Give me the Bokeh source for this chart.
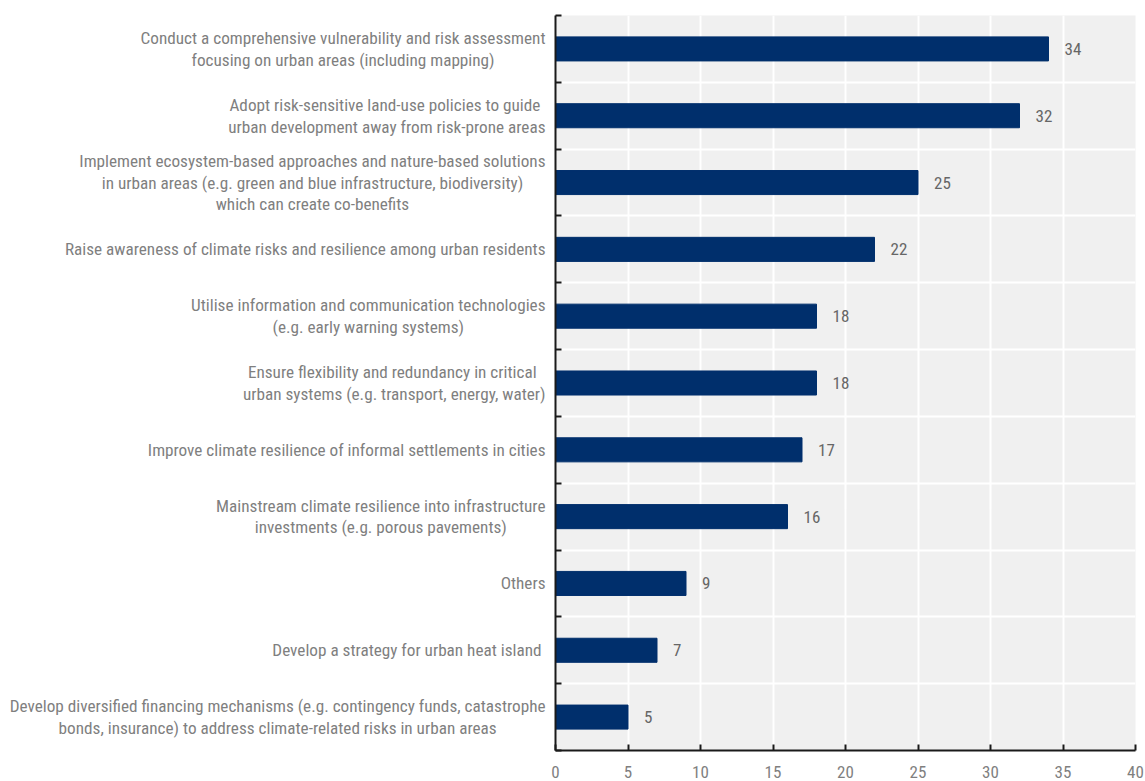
from bokeh.plotting import figure
from bokeh.models import Range1d, FixedTicker, ColumnDataSource
from bokeh.layouts import row
from bokeh.core.properties import value
from bokeh.embed import file_html
from bokeh.resources import INLINE

categories = [
    "Conduct a comprehensive vulnerability and risk assessment\nfocusing on urban areas (including mapping)",
    "Adopt risk-sensitive land-use policies to guide \nurban development away from risk-prone areas",
    "Implement ecosystem-based approaches and nature-based solutions\nin urban areas (e.g. green and blue infrastructure, biodiversity)\nwhich can create co-benefits",
    "Raise awareness of climate risks and resilience among urban residents",
    "Utilise information and communication technologies\n(e.g. early warning systems)",
    "Ensure flexibility and redundancy in critical \nurban systems (e.g. transport, energy, water)",
    "Improve climate resilience of informal settlements in cities",
    "Mainstream climate resilience into infrastructure\ninvestments (e.g. porous pavements)",
    "Others",
    "Develop a strategy for urban heat island ",
    "Develop diversified financing mechanisms (e.g. contingency funds, catastrophe\nbonds, insurance) to address climate-related risks in urban areas",
]
values = [34, 32, 25, 22, 18, 18, 17, 16, 9, 7, 5]
x_ticks = [0, 5, 10, 15, 20, 25, 30, 35, 40]

FONT = "Roboto Condensed"
BAR = "#002F6C"
TXT = "#7F7F7F"

n = len(categories)
ys = list(range(n))
y_range = Range1d(n - 0.5, -0.5)

# ---- label panel ----
lab = figure(width=550, height=781, output_backend="svg", toolbar_location=None,
             x_range=Range1d(0, 550), y_range=y_range,
             x_axis_location=None, y_axis_location=None,
             min_border_left=0, min_border_right=0, min_border_top=15, min_border_bottom=31)
lab.outline_line_color = None
lab.grid.visible = False
lab.background_fill_color = "white"
lab.border_fill_color = "white"
lsrc = ColumnDataSource(dict(x=[545] * n, y=ys, t=categories))
lab.text(x="x", y="y", text="t", source=lsrc, text_align="center", anchor="center_right",
         text_baseline="middle", text_font=value(FONT), text_font_size="17.2px",
         text_color=TXT, text_line_height=1.08)

# ---- bar panel ----
p = figure(width=595, height=781, output_backend="svg", toolbar_location=None,
           x_range=Range1d(0, 40), y_range=y_range,
           min_border_left=5, min_border_right=10, min_border_top=15, min_border_bottom=31)
p.outline_line_color = None
p.background_fill_color = "#F0F0F0"
p.border_fill_color = "white"

src = ColumnDataSource(dict(y=ys, v=values, t=[str(v) for v in values]))
p.hbar(y="y", left=0, right="v", height=0.36, color=BAR, source=src)
p.text(x="v", y="y", text="t", source=src, x_offset=16, text_align="left",
       text_baseline="middle", text_font=value(FONT), text_font_size="17px",
       text_color="#666666")

# grids
p.xgrid.ticker = FixedTicker(ticks=x_ticks)
p.xgrid.grid_line_color = "white"
p.xgrid.grid_line_width = 2
p.ygrid.ticker = FixedTicker(ticks=[i + 0.5 for i in range(n - 1)])
p.ygrid.grid_line_color = "white"
p.ygrid.grid_line_width = 2

# x axis
p.xaxis.ticker = FixedTicker(ticks=x_ticks)
p.xaxis.axis_line_color = "#1a1a1a"
p.xaxis.axis_line_width = 2
p.xaxis.major_tick_line_color = "#1a1a1a"
p.xaxis.major_tick_line_width = 2
p.xaxis.major_tick_in = 6
p.xaxis.major_tick_out = 0
p.xaxis.minor_tick_line_color = None
p.xaxis.major_label_standoff = 15
p.xaxis.major_label_text_font = FONT
p.xaxis.major_label_text_font_size = "17px"
p.xaxis.major_label_text_color = TXT

# y axis (ticks at category boundaries, no labels)
p.yaxis.ticker = FixedTicker(ticks=[i - 0.5 for i in range(n + 1)])
p.yaxis.axis_line_color = "#1a1a1a"
p.yaxis.axis_line_width = 2
p.yaxis.major_tick_line_color = "#1a1a1a"
p.yaxis.major_tick_line_width = 2
p.yaxis.major_tick_in = 6
p.yaxis.major_tick_out = 0
p.yaxis.minor_tick_line_color = None
p.yaxis.major_label_text_font_size = "1px"
p.yaxis.major_label_text_alpha = 0
p.yaxis.major_label_standoff = 0

layout = row(lab, p, spacing=0)
open("out.html", "w").write(file_html(layout, INLINE))
